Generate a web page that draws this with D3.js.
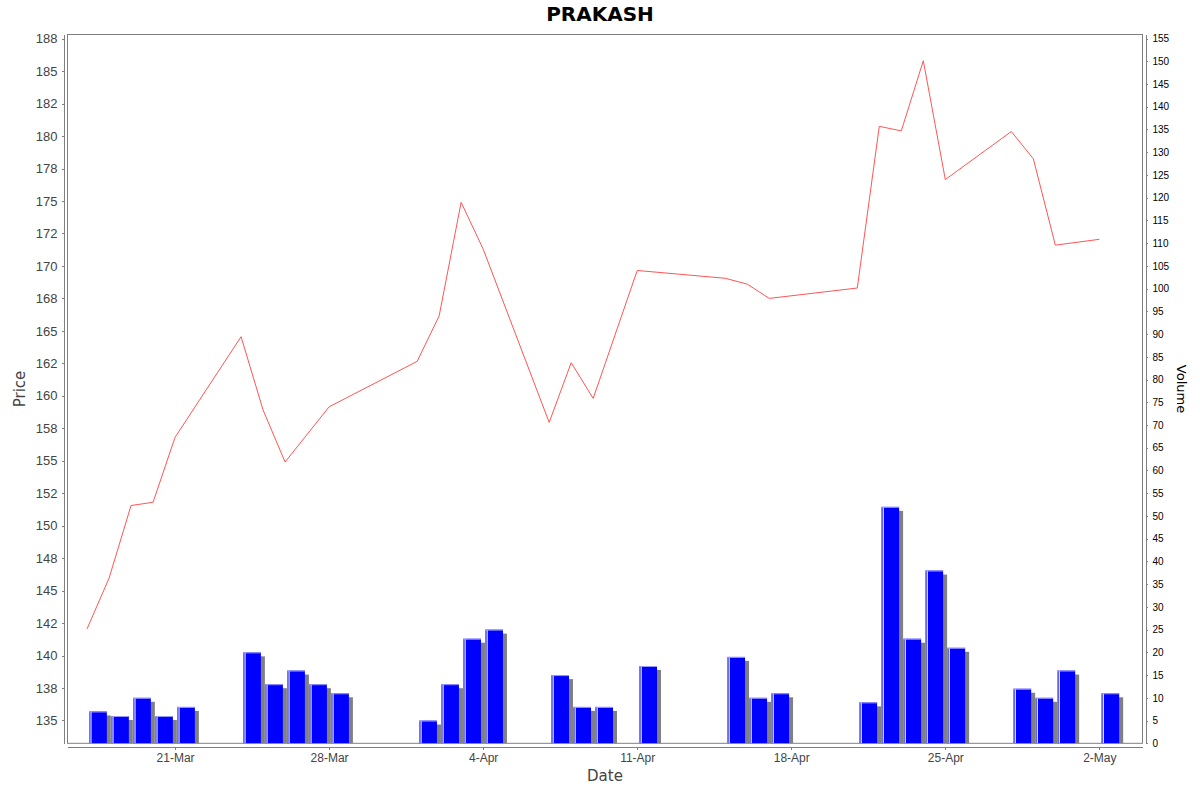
<!DOCTYPE html>
<html>
<head>
<meta charset="utf-8">
<script src="https://cdn.jsdelivr.net/npm/d3@7"></script>
<style>
  body { margin: 0; background: #fff; }
  svg { display: block; font-family: "DejaVu Sans", sans-serif; }
  .axis path, .axis line { stroke: #808080; shape-rendering: crispEdges; }
  .price-axis text, .date-axis text { fill: #444; }
  .volume-axis text { fill: #000; }
</style>
</head>
<body>
<div id="chart"></div>
<script>
const title = 'PRAKASH';

// trading days; Mar 27 has a volume bar but no price point
const dates = [
  '2014-03-17', '2014-03-18', '2014-03-19', '2014-03-20', '2014-03-21',
  '2014-03-24', '2014-03-25', '2014-03-26', '2014-03-27', '2014-03-28',
  '2014-04-01', '2014-04-02', '2014-04-03', '2014-04-04',
  '2014-04-07', '2014-04-08', '2014-04-09', '2014-04-11',
  '2014-04-15', '2014-04-16', '2014-04-17',
  '2014-04-21', '2014-04-22', '2014-04-23', '2014-04-24', '2014-04-25',
  '2014-04-28', '2014-04-29', '2014-04-30', '2014-05-02',
];

const closePrices = [
  142.05, 145.95, 151.55, 151.8, 156.8,
  164.55, 158.9, 154.9, null, 159.15,
  162.65, 166.15, 174.9, 171.3,
  157.95, 162.55, 159.8, 169.65,
  169.05, 168.6, 167.5,
  168.3, 180.75, 180.4, 185.8, 176.65,
  180.35, 178.25, 171.6, 172.05,
];

const volumes = [
  7, 6, 10, 6, 8,
  20, 13, 16, 13, 11,
  5, 13, 23, 25,
  15, 8, 8, 17,
  19, 10, 11,
  9, 52, 23, 38, 21,
  12, 10, 16, 11,
];

const priceTicks = [135, 137.5, 140, 142.5, 145, 147.5, 150, 152.5, 155, 157.5, 160,
  162.5, 165, 167.5, 170, 172.5, 175, 177.5, 180, 182.5, 185, 187.5];
const priceTickLabels = ['135', '138', '140', '142', '145', '148', '150', '152', '155', '158', '160',
  '162', '165', '168', '170', '172', '175', '178', '180', '182', '185', '188'];

const volumeTicks = [0, 5, 10, 15, 20, 25, 30, 35, 40, 45, 50, 55, 60, 65, 70, 75,
  80, 85, 90, 95, 100, 105, 110, 115, 120, 125, 130, 135, 140, 145, 150, 155];

const dateTicks = ['2014-03-21', '2014-03-28', '2014-04-04', '2014-04-11', '2014-04-18', '2014-04-25', '2014-05-02'];
const dateTickLabels = ['21-Mar', '28-Mar', '4-Apr', '11-Apr', '18-Apr', '25-Apr', '2-May'];

const width = 1200;
const height = 792;
const plot = { left: 67, right: 1142.5, top: 34, bottom: 743.3 };
const DAY = 864e5;

const parse = d3.utcParse('%Y-%m-%d');
const rows = dates.map((d, i) => ({ date: parse(d), price: closePrices[i], volume: volumes[i] }));

const first = d3.min(rows, d => d.date);
const last = d3.max(rows, d => d.date);

const x = d3.scaleUtc()
  .domain([new Date(+first - 0.91 * DAY), new Date(+last + 1.96 * DAY)])
  .range([plot.left, plot.right]);

const yPrice = d3.scaleLinear()
  .domain([133.24, 187.86])
  .range([plot.bottom, plot.top]);

const yVolume = d3.scaleLinear()
  .domain([0, 156])
  .range([plot.bottom, plot.top]);

const svg = d3.select('#chart').append('svg')
  .attr('width', width)
  .attr('height', height);

svg.append('defs').append('clipPath')
    .attr('id', 'plot-clip')
  .append('rect')
    .attr('x', plot.left)
    .attr('y', plot.top)
    .attr('width', plot.right - plot.left)
    .attr('height', plot.bottom - plot.top);

svg.append('text')
  .attr('x', 600)
  .attr('y', 21)
  .attr('text-anchor', 'middle')
  .style('font-size', '20px')
  .style('font-weight', 'bold')
  .text(title);

// plot outline
svg.append('rect')
  .attr('x', plot.left + 0.5)
  .attr('y', plot.top + 0.5)
  .attr('width', plot.right - plot.left - 0.5)
  .attr('height', plot.bottom - plot.top - 0.5)
  .attr('fill', 'none')
  .attr('stroke', '#808080');

const body = svg.append('g').attr('clip-path', 'url(#plot-clip)');

// volume bars: 80% of a day wide, grey shadow offset 4px
const barWidth = x(new Date(+first + 0.8 * DAY)) - x(first);
const barX = d => x(new Date(+d.date + 0.1 * DAY));

body.selectAll('.shadow')
  .data(rows)
  .enter().append('rect')
    .attr('class', 'shadow')
    .attr('x', d => barX(d) + 4)
    .attr('y', d => yVolume(d.volume) + 4)
    .attr('width', barWidth)
    .attr('height', d => Math.max(0, yVolume(0) - yVolume(d.volume) - 4))
    .attr('fill', '#808080');

const bar = body.selectAll('.bar')
  .data(rows)
  .enter().append('g')
    .attr('class', 'bar');

bar.append('rect')
  .attr('x', d => barX(d))
  .attr('y', d => yVolume(d.volume))
  .attr('width', barWidth)
  .attr('height', d => yVolume(0) - yVolume(d.volume))
  .attr('fill', '#0000ff');

// gradient-painter highlight stripes
bar.append('line')
  .attr('x1', d => barX(d) + 0.5)
  .attr('x2', d => barX(d) + 0.5)
  .attr('y1', d => yVolume(d.volume))
  .attr('y2', yVolume(0))
  .attr('stroke', '#8080ff');

bar.append('line')
  .attr('x1', d => barX(d) + 1.8)
  .attr('x2', d => barX(d) + 1.8)
  .attr('y1', d => yVolume(d.volume))
  .attr('y2', yVolume(0))
  .attr('stroke', '#ffffff')
  .attr('stroke-width', 1);

bar.append('line')
  .attr('x1', d => barX(d))
  .attr('x2', d => barX(d) + barWidth)
  .attr('y1', d => yVolume(d.volume) + 0.5)
  .attr('y2', d => yVolume(d.volume) + 0.5)
  .attr('stroke', '#9a9aff');

const line = d3.line()
  .x(d => x(d.date))
  .y(d => yPrice(d.price));

body.append('path')
  .datum(rows.filter(d => d.price !== null))
  .attr('d', line)
  .attr('fill', 'none')
  .attr('stroke', '#ff5555')
  .attr('stroke-width', 1);

// axes
const priceAxis = d3.axisLeft(yPrice)
  .tickValues(priceTicks)
  .tickFormat((d, i) => priceTickLabels[i])
  .tickSize(2)
  .tickSizeOuter(0)
  .tickPadding(4);

svg.append('g')
    .attr('class', 'axis price-axis')
    .attr('transform', 'translate(63.5,0)')
    .call(priceAxis)
  .selectAll('text')
    .style('font-size', '13px');

const volumeAxis = d3.axisRight(yVolume)
  .tickValues(volumeTicks)
  .tickSize(2)
  .tickSizeOuter(0)
  .tickPadding(5);

svg.append('g')
    .attr('class', 'axis volume-axis')
    .attr('transform', 'translate(1145.5,0)')
    .call(volumeAxis)
  .selectAll('text')
    .style('font-size', '10px');

const dateAxis = d3.axisBottom(x)
  .tickValues(dateTicks.map(parse))
  .tickFormat((d, i) => dateTickLabels[i])
  .tickSize(3)
  .tickSizeOuter(0)
  .tickPadding(4);

svg.append('g')
    .attr('class', 'axis date-axis')
    .attr('transform', 'translate(0,746.5)')
    .call(dateAxis)
  .selectAll('text')
    .style('font-size', '12px');

svg.append('text')
  .attr('transform', 'translate(25,389) rotate(-90)')
  .attr('text-anchor', 'middle')
  .style('font-size', '15px')
  .style('fill', '#444')
  .text('Price');

svg.append('text')
  .attr('transform', 'translate(1177,389) rotate(90)')
  .attr('text-anchor', 'middle')
  .style('font-size', '13px')
  .style('fill', '#000')
  .text('Volume');

svg.append('text')
  .attr('x', 605)
  .attr('y', 781)
  .attr('text-anchor', 'middle')
  .style('font-size', '15px')
  .style('fill', '#444')
  .text('Date');
</script>
</body>
</html>
